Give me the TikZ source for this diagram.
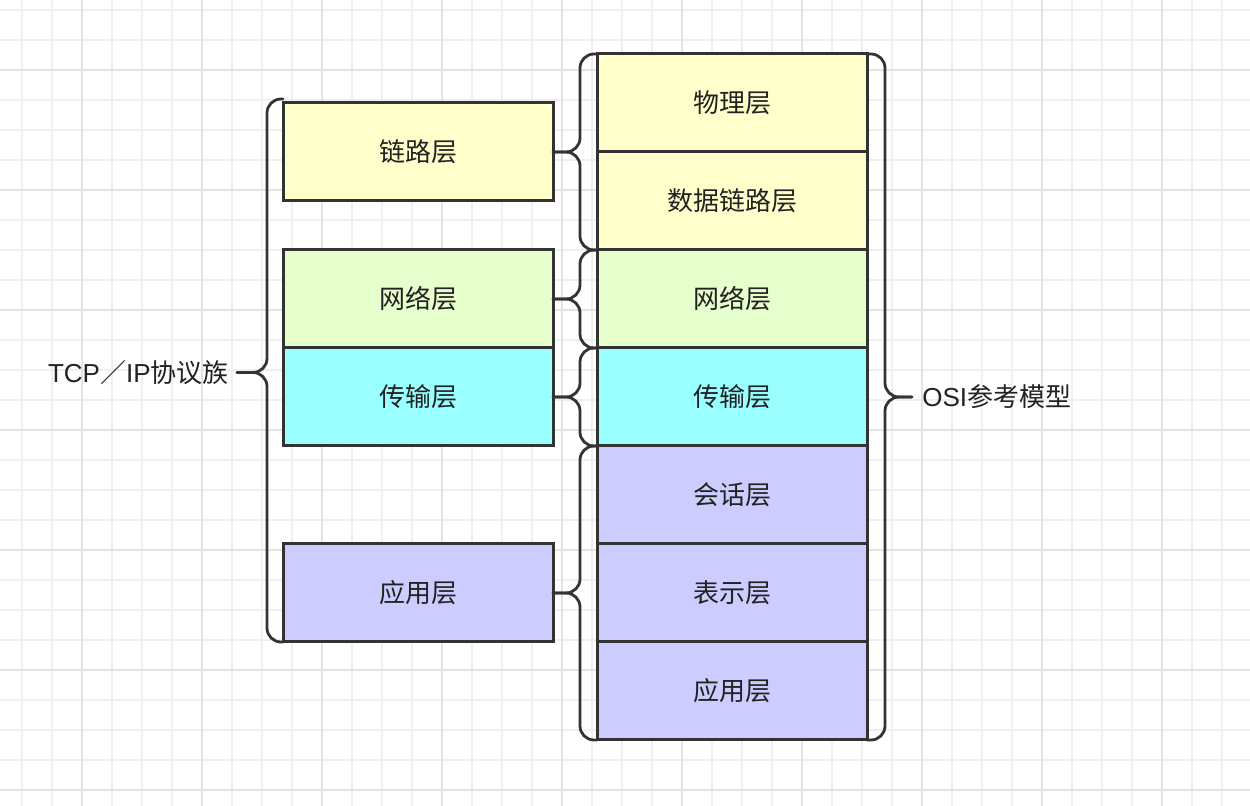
\documentclass[tikz,border=0pt]{standalone}
\usepackage{fontspec}
\setmainfont{Liberation Sans}
\newfontfamily\cjk{Noto Sans CJK SC}
\usepackage{tikz}
\usetikzlibrary{positioning,calc}

\definecolor{linkyellow}{HTML}{FFFFCC}
\definecolor{netgreen}{HTML}{E6FFCC}
\definecolor{transcyan}{HTML}{99FFFF}
\definecolor{applilac}{HTML}{CCCCFF}
\definecolor{edgegray}{HTML}{333333}
\definecolor{textdark}{HTML}{222222}
\definecolor{gridminor}{HTML}{EFEFEF}
\definecolor{gridmajor}{HTML}{E3E3E3}

\begin{document}
\begin{tikzpicture}[x=0.5pt, y=-0.5pt,
    layer/.style={rectangle, draw=edgegray, line width=1.5pt, outer sep=0pt,
        minimum width=135pt, minimum height=49pt, text=textdark,
        font=\cjk\fontsize{13}{15}\selectfont},
    brace/.style={draw=edgegray, line width=1.4pt, rounded corners=7pt, line cap=round},
    sidenote/.style={inner sep=0pt, text=textdark, font=\fontsize{13}{15}\selectfont}]

    % background grid
    \useasboundingbox[fill=white] (0,0) rectangle (1250,806);
    \foreach \gx in {22,52,...,1250} \draw[gridminor, line width=0.6pt] (\gx,0) -- (\gx,806);
    \foreach \gy in {10,40,...,806} \draw[gridminor, line width=0.6pt] (0,\gy) -- (1250,\gy);
    \foreach \gx in {82,202,...,1250} \draw[gridmajor, line width=1pt] (\gx,0) -- (\gx,806);
    \foreach \gy in {70,190,...,806} \draw[gridmajor, line width=1pt] (0,\gy) -- (1250,\gy);

    % OSI column
    \node (osi1) [layer, fill=linkyellow] at (732,103) {物理层};
    \node (osi2) [layer, fill=linkyellow, below=0pt of osi1] {数据链路层};
    \node (osi3) [layer, fill=netgreen, below=0pt of osi2] {网络层};
    \node (osi4) [layer, fill=transcyan, below=0pt of osi3] {传输层};
    \node (osi5) [layer, fill=applilac, below=0pt of osi4] {会话层};
    \node (osi6) [layer, fill=applilac, below=0pt of osi5] {表示层};
    \node (osi7) [layer, fill=applilac, below=0pt of osi6] {应用层};

    % TCP/IP column
    \node (link) [layer, fill=linkyellow, left=22pt of osi1.south west] {链路层};
    \node (net) [layer, fill=netgreen, left=22pt of osi3] {网络层};
    \node (trans) [layer, fill=transcyan, left=22pt of osi4] {传输层};
    \node (app) [layer, fill=applilac, left=22pt of osi6] {应用层};

    % braces between the columns
    \draw [brace] (osi1.north west) -- ++(-17,0) |- (link.east);
    \draw [brace] (osi2.south west) -- ++(-17,0) |- (link.east);
    \draw [brace] (osi3.north west) -- ++(-17,0) |- (net.east);
    \draw [brace] (osi3.south west) -- ++(-17,0) |- (net.east);
    \draw [brace] (osi4.north west) -- ++(-17,0) |- (trans.east);
    \draw [brace] (osi4.south west) -- ++(-17,0) |- (trans.east);
    \draw [brace] (osi5.north west) -- ++(-17,0) |- (app.east);
    \draw [brace] (osi7.south west) -- ++(-17,0) |- (app.east);

    % outer braces and their names
    \coordinate (tcptip) at ($(link.north west)!.5!(app.south west)+(-46,0)$);
    \coordinate (ositip) at ($(osi1.north east)!.5!(osi7.south east)+(45,0)$);
    \draw [brace] ($(link.north west)+(0,-4)$) -- ++(-16,0) |- (tcptip);
    \draw [brace] (app.south west) -- ++(-16,0) |- (tcptip);
    \draw [brace] (osi1.north east) -- ++(18,0) |- (ositip);
    \draw [brace] (osi7.south east) -- ++(18,0) |- (ositip);
    \node (tcp) [sidenote, left=4pt of tcptip] {TCP{\cjk ／}IP{\cjk 协议族}};
    \node (osi) [sidenote, right=5pt of ositip] {OSI{\cjk 参考模型}};
\end{tikzpicture}
\end{document}
